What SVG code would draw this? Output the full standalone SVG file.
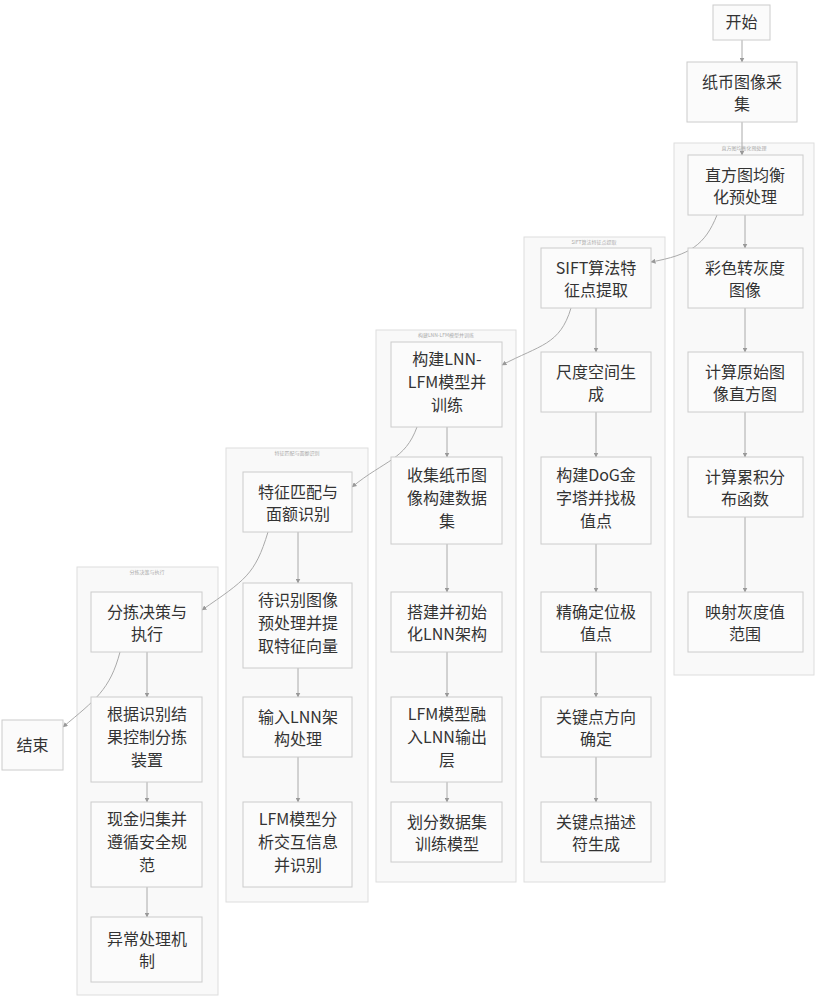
<svg xmlns="http://www.w3.org/2000/svg" width="819" height="1000" viewBox="0 0 819 1000">
<defs><marker id="a" viewBox="0 0 10 10" refX="9" refY="5" markerWidth="5" markerHeight="5" orient="auto"><path d="M0,0L10,5L0,10z" fill="#999"/></marker></defs>
<style>
.c{fill:#f9f9f9;stroke:#ddd;stroke-width:1}
.n rect{fill:#fbfbfb;stroke:#ccc;stroke-width:1}
.n text{font-family:"Noto Sans CJK SC",sans-serif;font-size:16px;fill:#333;text-anchor:middle}
.ct{font-family:"Noto Sans CJK SC",sans-serif;font-size:5px;fill:#aaa;text-anchor:middle}
.e path{fill:none;stroke:#aaa;stroke-width:1;marker-end:url(#a)}
</style>
<rect width="819" height="1000" fill="#fff"/>
<g id="clusters">
<rect class="c" x="674" y="143" width="140" height="532"/><text class="ct" x="744" y="150">直方图均衡化预处理</text>
<rect class="c" x="524" y="237" width="141" height="645"/><text class="ct" x="594" y="244">SIFT算法特征点提取</text>
<rect class="c" x="376" y="330" width="140" height="552"/><text class="ct" x="446" y="337">构建LNN-LFM模型并训练</text>
<rect class="c" x="226" y="448" width="142" height="454"/><text class="ct" x="297" y="455">特征匹配与面额识别</text>
<rect class="c" x="77" y="567" width="141" height="428"/><text class="ct" x="147" y="574">分拣决策与执行</text>
</g>
<g class="e" id="connectors">
<path d="M742,40V62"/><path d="M742,122V155"/>
<path d="M745,215V248"/><path d="M745,308V352"/><path d="M745,412V457"/><path d="M745,517V592"/>
<path d="M717,215C705,245 690,255 651,262"/>
<path d="M596,308V352"/><path d="M596,412V457"/><path d="M596,544V592"/><path d="M596,652V697"/><path d="M596,757V802"/>
<path d="M571,308C560,345 540,345 502,365"/>
<path d="M447,427V457"/><path d="M447,544V592"/><path d="M447,652V697"/><path d="M447,782V802"/>
<path d="M417,427C405,460 385,460 352,487"/>
<path d="M298,532V583"/><path d="M298,668V697"/><path d="M298,757V802"/>
<path d="M268,532C255,575 245,580 202,610"/>
<path d="M147,652V697"/><path d="M147,782V802"/><path d="M147,887V917"/>
<path d="M120,652C110,690 95,700 63,727"/>
</g>
<g class="n" id="start"><rect x="713" y="5" width="57" height="35"/><text x="741.5" y="28">开始</text></g>
<g class="n" id="collect"><rect x="687" y="62" width="110" height="60"/><text x="742" y="88">纸币图像采</text><text x="742" y="110">集</text></g>
<g class="n" id="hist"><rect x="688" y="155" width="115" height="60"/><text x="745" y="181">直方图均衡</text><text x="745" y="203">化预处理</text></g>
<g class="n" id="gray"><rect x="688" y="248" width="115" height="60"/><text x="745" y="274">彩色转灰度</text><text x="745" y="296">图像</text></g>
<g class="n" id="calchist"><rect x="688" y="352" width="115" height="60"/><text x="745" y="378">计算原始图</text><text x="745" y="400">像直方图</text></g>
<g class="n" id="cdf"><rect x="688" y="457" width="115" height="60"/><text x="745" y="483">计算累积分</text><text x="745" y="505">布函数</text></g>
<g class="n" id="map"><rect x="688" y="592" width="115" height="60"/><text x="745" y="618">映射灰度值</text><text x="745" y="640">范围</text></g>
<g class="n" id="sift"><rect x="541" y="248" width="110" height="60"/><text x="596" y="274">SIFT算法特</text><text x="596" y="296">征点提取</text></g>
<g class="n" id="scale"><rect x="541" y="352" width="110" height="60"/><text x="596" y="378">尺度空间生</text><text x="596" y="400">成</text></g>
<g class="n" id="dog"><rect x="541" y="457" width="110" height="87"/><text x="596" y="481">构建DoG金</text><text x="596" y="504">字塔并找极</text><text x="596" y="527">值点</text></g>
<g class="n" id="loc"><rect x="541" y="592" width="110" height="60"/><text x="596" y="618">精确定位极</text><text x="596" y="640">值点</text></g>
<g class="n" id="ori"><rect x="541" y="697" width="110" height="60"/><text x="596" y="723">关键点方向</text><text x="596" y="745">确定</text></g>
<g class="n" id="desc"><rect x="541" y="802" width="110" height="60"/><text x="596" y="828">关键点描述</text><text x="596" y="850">符生成</text></g>
<g class="n" id="lnn"><rect x="391" y="342" width="111" height="85"/><text x="447" y="365">构建LNN-</text><text x="447" y="388">LFM模型并</text><text x="447" y="411">训练</text></g>
<g class="n" id="data"><rect x="391" y="457" width="111" height="87"/><text x="447" y="481">收集纸币图</text><text x="447" y="504">像构建数据</text><text x="447" y="527">集</text></g>
<g class="n" id="init"><rect x="391" y="592" width="111" height="60"/><text x="447" y="618">搭建并初始</text><text x="447" y="640">化LNN架构</text></g>
<g class="n" id="lfm"><rect x="391" y="697" width="111" height="85"/><text x="447" y="720">LFM模型融</text><text x="447" y="743">入LNN输出</text><text x="447" y="766">层</text></g>
<g class="n" id="train"><rect x="391" y="802" width="111" height="60"/><text x="447" y="828">划分数据集</text><text x="447" y="850">训练模型</text></g>
<g class="n" id="match"><rect x="243" y="472" width="109" height="60"/><text x="298" y="498">特征匹配与</text><text x="298" y="520">面额识别</text></g>
<g class="n" id="pre"><rect x="243" y="583" width="109" height="85"/><text x="298" y="606">待识别图像</text><text x="298" y="629">预处理并提</text><text x="298" y="652">取特征向量</text></g>
<g class="n" id="input"><rect x="243" y="697" width="109" height="60"/><text x="298" y="723">输入LNN架</text><text x="298" y="745">构处理</text></g>
<g class="n" id="analyze"><rect x="243" y="802" width="109" height="85"/><text x="298" y="825">LFM模型分</text><text x="298" y="848">析交互信息</text><text x="298" y="871">并识别</text></g>
<g class="n" id="sort"><rect x="91" y="592" width="111" height="60"/><text x="147" y="618">分拣决策与</text><text x="147" y="640">执行</text></g>
<g class="n" id="ctrl"><rect x="91" y="697" width="111" height="85"/><text x="147" y="720">根据识别结</text><text x="147" y="743">果控制分拣</text><text x="147" y="766">装置</text></g>
<g class="n" id="cash"><rect x="91" y="802" width="111" height="85"/><text x="147" y="825">现金归集并</text><text x="147" y="848">遵循安全规</text><text x="147" y="871">范</text></g>
<g class="n" id="err"><rect x="91" y="917" width="111" height="65"/><text x="147" y="945">异常处理机</text><text x="147" y="967">制</text></g>
<g class="n" id="end"><rect x="2" y="720" width="61" height="50"/><text x="32.5" y="751">结束</text></g>
</svg>
